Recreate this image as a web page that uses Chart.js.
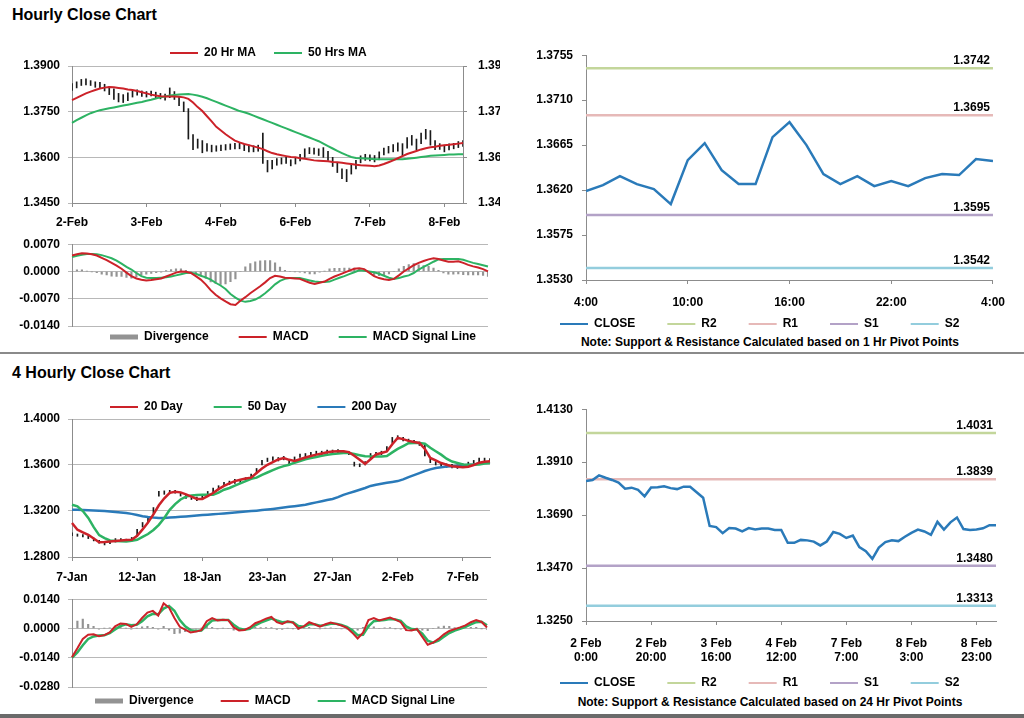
<!DOCTYPE html>
<html><head><meta charset="utf-8">
<script src="https://cdn.jsdelivr.net/npm/chart.js@4.4.1/dist/chart.umd.min.js"></script>
<style>
html,body{margin:0;padding:0;background:#fff;}
#wrap{position:relative;width:1024px;height:718px;overflow:hidden;background:#fff;font-family:"Liberation Sans",Arial,sans-serif;}
canvas{position:absolute;}
.title{position:absolute;left:12px;font-size:16px;font-weight:bold;line-height:18px;color:#000;white-space:nowrap;}
.note{position:absolute;left:520px;width:500px;text-align:center;font-size:12px;font-weight:bold;line-height:14px;color:#000;white-space:nowrap;}
.sep{position:absolute;left:0;width:1024px;}
</style></head><body>
<div id="wrap">
 <div class="title" style="top:6px">Hourly Close Chart</div>
 <div class="title" style="top:364px">4 Hourly Close Chart</div>
 <div class="note" style="top:335px">Note: Support &amp; Resistance Calculated based on 1 Hr Pivot Points</div>
 <div class="note" style="top:695px">Note: Support &amp; Resistance Calculated based on 24 Hr Pivot Points</div>
 <div class="sep" style="top:352px;height:2px;background:#8a8a8a"></div>
 <div class="sep" style="top:714px;height:4px;background:#6a6a6a"></div>
 <canvas id="c1" width="500" height="207" style="left:0;top:26px"></canvas>
 <canvas id="c2" width="500" height="149" style="left:0;top:229px"></canvas>
 <canvas id="c3" width="506" height="325" style="left:510px;top:39px"></canvas>
 <canvas id="c4" width="500" height="221" style="left:0;top:366px"></canvas>
 <canvas id="c5" width="500" height="152" style="left:0;top:584px"></canvas>
 <canvas id="c6" width="506" height="327" style="left:510px;top:393px"></canvas>
</div>
<script>
// ---------------- Hourly chart data ----------------
const hourDayLabels = ['2-Feb','3-Feb','4-Feb','6-Feb','7-Feb','8-Feb'];
const hourLow = [
1.3820,1.3828,1.3836,1.3838,1.3836,1.3830,1.3826,1.3818,1.3806,1.3790,
1.3782,1.3780,1.3786,1.3798,1.3804,1.3800,1.3798,1.3802,1.3796,1.3792,
1.3788,1.3796,1.3790,1.3770,1.3750,1.3660,1.3625,1.3630,1.3615,1.3620,
1.3618,1.3620,1.3622,1.3624,1.3626,1.3628,1.3628,1.3622,1.3618,1.3618,
1.3620,1.3580,1.3552,1.3562,1.3574,1.3578,1.3580,1.3572,1.3578,1.3588,
1.3600,1.3612,1.3610,1.3606,1.3600,1.3590,1.3570,1.3550,1.3530,1.3520,
1.3545,1.3562,1.3582,1.3590,1.3588,1.3585,1.3592,1.3608,1.3614,1.3618,
1.3620,1.3605,1.3630,1.3640,1.3625,1.3645,1.3660,1.3640,1.3625,1.3626,
1.3618,1.3624,1.3628,1.3632,1.3636];
const hourHigh = [
1.3842,1.3848,1.3856,1.3858,1.3852,1.3848,1.3846,1.3840,1.3832,1.3825,
1.3810,1.3806,1.3812,1.3818,1.3822,1.3818,1.3816,1.3818,1.3814,1.3810,
1.3808,1.3828,1.3816,1.3800,1.3782,1.3760,1.3675,1.3660,1.3655,1.3645,
1.3640,1.3638,1.3640,1.3642,1.3644,1.3646,1.3646,1.3642,1.3640,1.3638,
1.3640,1.3680,1.3590,1.3590,1.3596,1.3598,1.3600,1.3592,1.3598,1.3610,
1.3628,1.3632,1.3630,1.3628,1.3632,1.3620,1.3600,1.3582,1.3562,1.3560,
1.3575,1.3590,1.3605,1.3610,1.3608,1.3606,1.3618,1.3630,1.3636,1.3642,
1.3648,1.3645,1.3665,1.3672,1.3660,1.3680,1.3692,1.3688,1.3655,1.3645,
1.3640,1.3644,1.3646,1.3652,1.3655];
const hourMA20 = [
1.3788,1.3795,1.3803,1.3810,1.3816,1.3821,1.3826,1.3829,1.3831,1.3830,
1.3828,1.3826,1.3823,1.3821,1.3818,1.3814,1.3810,1.3806,1.3803,1.3801,
1.3800,1.3800,1.3800,1.3799,1.3797,1.3792,1.3780,1.3765,1.3752,1.3735,
1.3718,1.3700,1.3688,1.3676,1.3665,1.3655,1.3649,1.3644,1.3640,1.3636,
1.3632,1.3627,1.3620,1.3614,1.3610,1.3607,1.3604,1.3601,1.3600,1.3597,
1.3595,1.3593,1.3590,1.3589,1.3588,1.3587,1.3585,1.3584,1.3582,1.3580,
1.3578,1.3576,1.3574,1.3573,1.3572,1.3571,1.3573,1.3578,1.3584,1.3590,
1.3597,1.3604,1.3611,1.3616,1.3621,1.3626,1.3630,1.3633,1.3635,1.3638,
1.3640,1.3641,1.3643,1.3645,1.3647];
const hourMA50 = [
1.3713,1.3722,1.3730,1.3738,1.3745,1.3750,1.3755,1.3758,1.3761,1.3764,
1.3767,1.3770,1.3773,1.3776,1.3779,1.3782,1.3786,1.3789,1.3793,1.3797,
1.3800,1.3803,1.3805,1.3806,1.3807,1.3808,1.3806,1.3803,1.3799,1.3794,
1.3788,1.3782,1.3776,1.3770,1.3764,1.3758,1.3752,1.3748,1.3743,1.3737,
1.3731,1.3725,1.3719,1.3713,1.3707,1.3701,1.3695,1.3689,1.3683,1.3677,
1.3671,1.3665,1.3659,1.3653,1.3645,1.3637,1.3629,1.3621,1.3614,1.3607,
1.3601,1.3598,1.3597,1.3596,1.3595,1.3594,1.3594,1.3594,1.3594,1.3594,
1.3594,1.3594,1.3595,1.3597,1.3599,1.3601,1.3603,1.3605,1.3606,1.3607,
1.3608,1.3609,1.3609,1.3610,1.3610];
const hourPriceTicks = [1.3450, 1.3600, 1.3750, 1.3900];
const hourMacd = [
0.0041,0.0044,0.0047,0.0046,0.0044,0.0041,0.0035,0.0029,0.0022,0.0015,
0.0007,-0.0003,-0.0012,-0.0018,-0.0021,-0.0023,-0.0022,-0.0020,-0.0018,-0.0013,
-0.0008,-0.0003,0.0000,-0.0001,-0.0004,-0.0012,-0.0021,-0.0033,-0.0048,-0.0060,
-0.0069,-0.0077,-0.0084,-0.0086,-0.0075,-0.0066,-0.0056,-0.0047,-0.0038,-0.0028,
-0.0017,-0.0011,-0.0013,-0.0016,-0.0017,-0.0018,-0.0019,-0.0024,-0.0029,-0.0032,
-0.0029,-0.0026,-0.0019,-0.0013,-0.0008,-0.0003,0.0002,0.0007,0.0008,0.0006,
-0.0003,-0.0012,-0.0017,-0.0020,-0.0022,-0.0019,-0.0010,0.0000,0.0008,0.0016,
0.0022,0.0027,0.0031,0.0034,0.0032,0.0028,0.0025,0.0025,0.0026,0.0022,
0.0017,0.0013,0.0010,0.0006,0.0000];
const hourSignal = [
0.0037,0.0040,0.0043,0.0045,0.0045,0.0044,0.0042,0.0038,0.0034,0.0028,
0.0020,0.0012,0.0005,-0.0004,-0.0012,-0.0016,-0.0017,-0.0017,-0.0016,-0.0015,
-0.0013,-0.0010,-0.0007,-0.0004,-0.0003,-0.0006,-0.0011,-0.0015,-0.0021,-0.0029,
-0.0036,-0.0045,-0.0058,-0.0067,-0.0075,-0.0078,-0.0076,-0.0072,-0.0065,-0.0056,
-0.0045,-0.0033,-0.0024,-0.0019,-0.0017,-0.0017,-0.0017,-0.0020,-0.0023,-0.0026,
-0.0027,-0.0027,-0.0026,-0.0021,-0.0016,-0.0012,-0.0007,-0.0002,0.0003,0.0002,
0.0000,-0.0002,-0.0006,-0.0011,-0.0016,-0.0019,-0.0017,-0.0013,-0.0010,-0.0004,
0.0005,0.0012,0.0018,0.0025,0.0031,0.0032,0.0032,0.0032,0.0032,0.0030,
0.0026,0.0022,0.0019,0.0016,0.0013];
const hourDivergence = [
0.0004,0.0004,0.0004,0.0001,-0.0001,-0.0003,-0.0007,-0.0009,-0.0012,-0.0013,
-0.0013,-0.0015,-0.0017,-0.0014,-0.0009,-0.0007,-0.0005,-0.0003,-0.0002,0.0002,
0.0005,0.0007,0.0007,0.0003,-0.0001,-0.0006,-0.0010,-0.0018,-0.0027,-0.0031,
-0.0033,-0.0032,-0.0026,-0.0019,0.0000,0.0012,0.0020,0.0025,0.0027,0.0028,
0.0028,0.0022,0.0011,0.0003,0.0000,-0.0001,-0.0002,-0.0004,-0.0006,-0.0006,
-0.0002,0.0001,0.0007,0.0008,0.0008,0.0009,0.0009,0.0009,0.0005,0.0004,
-0.0003,-0.0010,-0.0011,-0.0009,-0.0006,0.0000,0.0007,0.0013,0.0018,0.0020,
0.0017,0.0015,0.0013,0.0009,0.0003,-0.0004,-0.0007,-0.0007,-0.0006,-0.0008,
-0.0009,-0.0009,-0.0009,-0.0010,-0.0013];
const hourMacdTicks = [-0.0140, -0.0070, 0.0000, 0.0070];

// ---------------- Hourly pivot chart data ----------------
const pivotHourTicks = ['4:00','10:00','16:00','22:00','4:00'];
const pivotHourClose = [1.3619,1.3625,1.3634,1.3626,1.3621,1.3606,1.3650,1.3667,1.3640,1.3626,
1.3626,1.3673,1.3688,1.3665,1.3636,1.3626,1.3634,1.3624,1.3629,1.3624,1.3632,1.3636,1.3635,1.3651,1.3649];
const pivotNames = ['R2','R1','S1','S2'];
const pivotHourLevels = [1.3742, 1.3695, 1.3595, 1.3542];
const pivotHourAxis = [1.3530, 1.3575, 1.3620, 1.3665, 1.3710, 1.3755];

// ---------------- 4-hourly chart data ----------------
const fourTickLabels = ['7-Jan','12-Jan','18-Jan','23-Jan','27-Jan','2-Feb','7-Feb'];
const fourLow = [
1.2985,1.2980,1.2975,1.2960,1.2940,1.2920,1.2905,1.2915,1.2930,1.2935,
1.2935,1.2940,1.2980,1.3060,1.3100,1.3180,1.3330,1.3345,1.3350,1.3355,
1.3330,1.3310,1.3300,1.3290,1.3300,1.3340,1.3360,1.3390,1.3420,1.3430,
1.3440,1.3440,1.3460,1.3480,1.3530,1.3600,1.3630,1.3640,1.3635,1.3645,
1.3610,1.3640,1.3665,1.3670,1.3680,1.3690,1.3690,1.3700,1.3700,1.3705,
1.3700,1.3690,1.3590,1.3585,1.3600,1.3660,1.3680,1.3690,1.3720,1.3790,
1.3825,1.3810,1.3795,1.3785,1.3770,1.3680,1.3620,1.3600,1.3595,1.3580,
1.3575,1.3570,1.3580,1.3590,1.3600,1.3610,1.3620,1.3625];
const fourHigh = [
1.3010,1.3000,1.2995,1.2985,1.2965,1.2945,1.2930,1.2945,1.2960,1.2960,
1.2955,1.2970,1.3040,1.3100,1.3140,1.3230,1.3370,1.3375,1.3380,1.3380,
1.3360,1.3340,1.3325,1.3320,1.3340,1.3370,1.3400,1.3420,1.3450,1.3460,
1.3475,1.3470,1.3490,1.3520,1.3570,1.3640,1.3660,1.3670,1.3665,1.3675,
1.3640,1.3670,1.3695,1.3700,1.3710,1.3720,1.3720,1.3730,1.3730,1.3735,
1.3725,1.3715,1.3625,1.3610,1.3630,1.3700,1.3710,1.3720,1.3760,1.3840,
1.3855,1.3840,1.3825,1.3815,1.3800,1.3770,1.3650,1.3630,1.3620,1.3610,
1.3605,1.3600,1.3610,1.3625,1.3640,1.3660,1.3660,1.3655];
const fourMA20 = [
1.3095,1.3037,1.3015,1.2993,1.2960,1.2928,1.2930,1.2935,1.2940,1.2944,
1.2947,1.2950,1.2985,1.3040,1.3100,1.3170,1.3250,1.3310,1.3358,1.3368,
1.3362,1.3344,1.3325,1.3305,1.3305,1.3330,1.3356,1.3390,1.3418,1.3440,
1.3460,1.3472,1.3482,1.3490,1.3530,1.3570,1.3602,1.3625,1.3648,1.3660,
1.3645,1.3635,1.3650,1.3665,1.3678,1.3690,1.3700,1.3710,1.3718,1.3720,
1.3720,1.3712,1.3680,1.3645,1.3609,1.3650,1.3692,1.3705,1.3718,1.3780,
1.3835,1.3825,1.3810,1.3800,1.3792,1.3740,1.3661,1.3640,1.3617,1.3602,
1.3590,1.3585,1.3580,1.3585,1.3600,1.3620,1.3628,1.3633];
const fourMA50 = [
1.3254,1.3240,1.3200,1.3140,1.3060,1.2990,1.2965,1.2944,1.2940,1.2937,
1.2935,1.2942,1.2950,1.2975,1.3000,1.3035,1.3080,1.3140,1.3210,1.3260,
1.3300,1.3325,1.3335,1.3340,1.3341,1.3341,1.3341,1.3360,1.3385,1.3400,
1.3420,1.3440,1.3460,1.3480,1.3490,1.3515,1.3535,1.3555,1.3575,1.3590,
1.3602,1.3620,1.3635,1.3650,1.3661,1.3670,1.3680,1.3688,1.3696,1.3700,
1.3704,1.3704,1.3695,1.3685,1.3676,1.3675,1.3675,1.3675,1.3678,1.3710,
1.3740,1.3765,1.3790,1.3791,1.3791,1.3785,1.3750,1.3720,1.3690,1.3655,
1.3630,1.3617,1.3605,1.3602,1.3602,1.3605,1.3612,1.3617];
const fourMA200 = [
1.3211,1.3210,1.3208,1.3207,1.3205,1.3203,1.3200,1.3196,1.3192,1.3188,
1.3183,1.3175,1.3165,1.3155,1.3148,1.3143,1.3140,1.3140,1.3143,1.3146,
1.3150,1.3153,1.3157,1.3161,1.3165,1.3168,1.3172,1.3175,1.3179,1.3183,
1.3187,1.3191,1.3195,1.3199,1.3203,1.3208,1.3213,1.3218,1.3224,1.3230,
1.3236,1.3242,1.3248,1.3255,1.3265,1.3275,1.3285,1.3295,1.3305,1.3320,
1.3340,1.3355,1.3370,1.3385,1.3400,1.3418,1.3428,1.3437,1.3445,1.3452,
1.3460,1.3475,1.3495,1.3512,1.3530,1.3548,1.3562,1.3574,1.3580,1.3586,
1.3590,1.3594,1.3597,1.3601,1.3605,1.3612,1.3620,1.3626];
const fourPriceTicks = [1.2800, 1.3200, 1.3600, 1.4000];
const fourMacd = [
-0.0137,-0.0095,-0.0050,-0.0030,-0.0028,-0.0037,-0.0032,-0.0019,0.0010,0.0024,
0.0022,0.0008,0.0020,0.0050,0.0076,0.0084,0.0062,0.0120,0.0100,0.0050,
0.0008,-0.0005,-0.0019,-0.0015,-0.0008,0.0035,0.0050,0.0038,0.0042,0.0040,
0.0005,-0.0010,-0.0007,0.0005,0.0025,0.0035,0.0047,0.0055,0.0030,0.0022,
0.0034,0.0028,0.0000,0.0010,0.0030,0.0020,0.0009,0.0020,0.0028,0.0022,
0.0014,0.0003,-0.0020,-0.0048,-0.0020,0.0040,0.0050,0.0038,0.0045,0.0052,
0.0042,0.0030,-0.0008,-0.0010,-0.0003,-0.0040,-0.0078,-0.0068,-0.0050,-0.0028,
-0.0012,-0.0003,0.0005,0.0015,0.0030,0.0040,0.0031,0.0005];
const fourSignal = [
-0.0140,-0.0115,-0.0080,-0.0050,-0.0038,-0.0034,-0.0033,-0.0022,-0.0005,0.0012,
0.0020,0.0015,0.0018,0.0035,0.0058,0.0070,0.0068,0.0095,0.0108,0.0085,
0.0040,0.0010,-0.0008,-0.0012,-0.0010,0.0015,0.0038,0.0040,0.0040,0.0040,
0.0018,0.0000,-0.0006,-0.0002,0.0015,0.0028,0.0038,0.0047,0.0038,0.0030,
0.0032,0.0030,0.0012,0.0008,0.0020,0.0020,0.0013,0.0016,0.0022,0.0022,
0.0017,0.0008,-0.0008,-0.0032,-0.0030,0.0010,0.0035,0.0038,0.0040,0.0045,
0.0043,0.0036,0.0010,-0.0003,-0.0005,-0.0025,-0.0058,-0.0068,-0.0058,-0.0040,
-0.0022,-0.0010,-0.0002,0.0008,0.0020,0.0030,0.0032,0.0015];
const fourDivergence = [
0.0003,0.0035,0.0045,0.0020,0.0010,-0.0003,0.0001,0.0003,0.0005,0.0005,
0.0002,-0.0003,0.0002,0.0008,0.0010,0.0006,-0.0003,0.0010,-0.0008,-0.0025,
-0.0022,-0.0015,-0.0006,-0.0003,0.0001,0.0010,0.0005,-0.0002,0.0002,0.0000,
-0.0008,-0.0006,-0.0002,0.0004,0.0005,0.0004,0.0004,0.0004,-0.0004,-0.0004,
0.0002,-0.0001,-0.0006,0.0001,0.0005,0.0000,-0.0002,0.0002,0.0003,0.0000,
-0.0002,-0.0003,-0.0006,-0.0008,0.0005,0.0015,0.0008,0.0000,0.0003,0.0004,
-0.0001,-0.0003,-0.0009,-0.0004,0.0001,-0.0008,-0.0010,0.0000,0.0008,0.0012,
0.0010,0.0004,0.0004,0.0004,0.0005,0.0005,-0.0001,-0.0005];
const fourMacdTicks = [-0.0280, -0.0140, 0.0000, 0.0140];

// ---------------- 24h pivot chart data ----------------
const pivotDayTicks = [['2 Feb','0:00'],['2 Feb','20:00'],['3 Feb','16:00'],['4 Feb','12:00'],['7 Feb','7:00'],['8 Feb','3:00'],['8 Feb','23:00']];
const pivotDayClose = [
1.3832,1.3836,1.3855,1.3845,1.3836,1.3825,1.3800,1.3804,1.3795,1.3768,
1.3805,1.3806,1.3810,1.3802,1.3798,1.3808,1.3808,1.3785,1.3762,1.3645,
1.3640,1.3615,1.3636,1.3634,1.3622,1.3636,1.3630,1.3634,1.3634,1.3628,
1.3628,1.3575,1.3575,1.3587,1.3585,1.3580,1.3564,1.3580,1.3620,1.3612,
1.3595,1.3605,1.3557,1.3540,1.3508,1.3555,1.3578,1.3585,1.3582,1.3600,
1.3616,1.3630,1.3622,1.3608,1.3662,1.3630,1.3660,1.3680,1.3632,1.3628,
1.3630,1.3635,1.3648,1.3648];
const pivotDayLevels = [1.4031, 1.3839, 1.3480, 1.3313];
const pivotDayAxis = [1.3250, 1.3470, 1.3690, 1.3910, 1.4130];

// ---------------- styling ----------------
const RED = '#cc2229', GREEN = '#2db363', BLUE = '#2a7ab9', BLACK = '#1a1a1a';
const AXIS = '#8c8c8c', GRID = '#b8b8b8', DIVG = '#939393';
const levelColors = ['#c3d69b', '#e6b9b8', '#b3a2c7', '#93cddd'];

Chart.defaults.font.family = '"Liberation Sans", Arial, Helvetica, sans-serif';
Chart.defaults.font.size = 12;
Chart.defaults.font.weight = 'bold';
Chart.defaults.color = '#000';
Chart.defaults.plugins.tooltip.enabled = false;

// place a legend's first item at (x, y-centre) in canvas coordinates
const legendPlace = {
  id: 'legendPlace',
  afterLayout(chart, args, opts) {
    const lg = chart.legend;
    if (!lg || opts.x === undefined || !lg.lineWidths) return;
    const p = lg.options.labels.padding;
    const start = (lg.left + p + lg.right - lg.lineWidths[0]) / 2;
    const dx = opts.x - start;
    lg.left += dx; lg.right += dx;
    const dy = opts.y - (lg.top + p + 6);
    lg.top += dy; lg.bottom += dy;
  }
};
// value tags above the pivot lines
const levelLabels = {
  id: 'levelLabels',
  afterDatasetsDraw(chart, args, opts) {
    if (!opts.levels) return;
    const {ctx, chartArea, scales} = chart;
    ctx.save();
    ctx.font = 'bold 12px "Liberation Sans", Arial, sans-serif';
    ctx.fillStyle = '#000';
    ctx.textAlign = 'right';
    ctx.textBaseline = 'alphabetic';
    opts.levels.forEach(v => ctx.fillText(v.toFixed(4), chartArea.right - 3, scales.y.getPixelForValue(v) - 4));
    ctx.restore();
  }
};
Chart.register(legendPlace, levelLabels);

function legendOpts(position, padding) {
  return {
    display: true, position,
    labels: {
      usePointStyle: true, pointStyleWidth: 28, boxHeight: 5, padding,
      font: {size: 12, weight: 'bold'}, color: '#000',
      filter: item => !!item.text,
      sort: (a, b) => a.datasetIndex - b.datasetIndex
    }
  };
}
function fixedTicks(list) { return s => { s.ticks = list.map(v => ({value: v})); }; }
function lineSet(label, data, color, width) {
  return {type: 'line', label, data, borderColor: color, backgroundColor: color, borderWidth: width,
    pointRadius: 0, pointStyle: 'line', pointBorderWidth: 2, pointBorderColor: color, tension: 0, order: 1};
}
function yAxis(min, max, list, fmt, pad, width, gridOn) {
  return {
    position: 'left', min, max, afterBuildTicks: fixedTicks(list),
    ticks: {callback: fmt, padding: pad, autoSkip: false},
    grid: gridOn ? {color: GRID, tickLength: 4} : {drawOnChartArea: false, tickLength: 4, color: AXIS},
    border: {color: AXIS},
    afterFit: s => { s.width = width; }
  };
}
const f4 = v => Number(v).toFixed(4);

// ---------- chart 1 : hourly price ----------
const hourCats = hourLow.map((_, i) => i % 16 === 0 ? hourDayLabels[i / 16] : '');
new Chart(document.getElementById('c1'), {
  type: 'line',
  data: {labels: hourCats, datasets: [
    {type: 'bar', label: '', data: hourLow.map((lo, i) => [lo, hourHigh[i]]), backgroundColor: BLACK, barThickness: 1, order: 5},
    lineSet('20 Hr MA', hourMA20, RED, 2),
    lineSet('50 Hrs MA', hourMA50, GREEN, 2)
  ]},
  options: {
    responsive: false, devicePixelRatio: 1, animation: false, events: [],
    layout: {padding: 0},
    scales: {
      x: {type: 'category', offset: false,
        grid: {offset: false, drawOnChartArea: false, tickLength: 4, color: AXIS}, border: {color: AXIS},
        ticks: {autoSkip: false, maxRotation: 0, padding: 8},
        afterBuildTicks: s => { s.ticks = s.ticks.filter(t => hourCats[t.value] !== ''); },
        afterFit: s => { s.height = 30; }},
      y: yAxis(1.345, 1.39, hourPriceTicks, f4, 8, 72, true),
      y2: Object.assign(yAxis(1.345, 1.39, hourPriceTicks, v => String(Number(Number(v).toFixed(4))), 11, 37, false), {position: 'right'})
    },
    plugins: {legend: legendOpts('top', 18), legendPlace: {x: 170, y: 27}}
  }
});

// ---------- chart 2 : hourly MACD ----------
new Chart(document.getElementById('c2'), {
  type: 'line',
  data: {labels: hourCats, datasets: [
    {type: 'bar', label: 'Divergence', data: hourDivergence, backgroundColor: DIVG, barThickness: 1.5, borderWidth: 0, pointStyle: 'rect', order: 5},
    lineSet('MACD', hourMacd, RED, 2),
    lineSet('MACD Signal Line', hourSignal, GREEN, 2)
  ]},
  options: {
    responsive: false, devicePixelRatio: 1, animation: false, events: [],
    layout: {padding: {top: 0, right: 12, left: 0, bottom: 0}},
    scales: {
      x: {type: 'category', display: false, offset: false, grid: {offset: false}},
      y: yAxis(-0.014, 0.007, hourMacdTicks, f4, 8, 72, true)
    },
    plugins: {legend: legendOpts('bottom', 30), legendPlace: {x: 110, y: 108}}
  }
});

// ---------- chart 3 : hourly pivots ----------
function pivotSets(close, levels) {
  const last = close.length - 1;
  return [
    {type: 'line', label: 'CLOSE', data: close.map((v, i) => ({x: i, y: v})), borderColor: BLUE, backgroundColor: BLUE,
      borderWidth: 2.5, pointRadius: 0, pointStyle: 'line', pointBorderWidth: 2, pointBorderColor: BLUE, order: 0}
  ].concat(levels.map((lv, k) => ({
    type: 'line', label: pivotNames[k], data: [{x: 0, y: lv}, {x: last, y: lv}],
    borderColor: levelColors[k], backgroundColor: levelColors[k], borderWidth: 2.5, pointRadius: 0,
    pointStyle: 'line', pointBorderWidth: 2, pointBorderColor: levelColors[k], order: 1
  })));
}
function pivotX(max, labels, step, height, pad) {
  return {
    type: 'linear', min: 0, max,
    afterBuildTicks: s => { s.ticks = labels.map((_, k) => ({value: k * step})); },
    ticks: {callback: (v, k) => labels[k], autoSkip: false, maxRotation: 0, padding: pad},
    grid: {drawOnChartArea: false, tickLength: 4, color: AXIS}, border: {color: AXIS},
    afterFit: s => { s.height = height; }
  };
}
new Chart(document.getElementById('c3'), {
  type: 'line',
  data: {datasets: pivotSets(pivotHourClose, pivotHourLevels)},
  options: {
    responsive: false, devicePixelRatio: 1, animation: false, events: [],
    layout: {padding: {top: 0, right: 20, left: 0, bottom: 0}},
    scales: {
      x: pivotX(pivotHourClose.length - 1, pivotHourTicks, 6, 30, 11),
      y: yAxis(1.353, 1.3755, pivotHourAxis, f4, 9, 76, false)
    },
    plugins: {legend: legendOpts('bottom', 32), legendPlace: {x: 50, y: 285}, levelLabels: {levels: pivotHourLevels}}
  }
});

// ---------- chart 4 : 4-hourly price ----------
const fourCats = fourLow.map((_, i) => i % 12 === 0 ? fourTickLabels[i / 12] : '');
new Chart(document.getElementById('c4'), {
  type: 'line',
  data: {labels: fourCats, datasets: [
    {type: 'bar', label: '', data: fourLow.map((lo, i) => [lo, fourHigh[i]]), backgroundColor: BLACK, barThickness: 1, order: 5},
    lineSet('20 Day', fourMA20, RED, 2.5),
    lineSet('50 Day', fourMA50, GREEN, 2.5),
    lineSet('200 Day', fourMA200, BLUE, 2.5)
  ]},
  options: {
    responsive: false, devicePixelRatio: 1, animation: false, events: [],
    layout: {padding: {top: 0, right: 10, left: 0, bottom: 0}},
    scales: {
      x: {type: 'category', offset: false,
        grid: {offset: false, drawOnChartArea: false, tickLength: 4, color: AXIS}, border: {color: AXIS},
        ticks: {autoSkip: false, maxRotation: 0, padding: 9},
        afterBuildTicks: s => { s.ticks = s.ticks.filter(t => fourCats[t.value] !== ''); },
        afterFit: s => { s.height = 30; }},
      y: yAxis(1.28, 1.40, fourPriceTicks, f4, 8, 72, true)
    },
    plugins: {legend: legendOpts('top', 31), legendPlace: {x: 110, y: 41}}
  }
});

// ---------- chart 5 : 4-hourly MACD ----------
new Chart(document.getElementById('c5'), {
  type: 'line',
  data: {labels: fourCats, datasets: [
    {type: 'bar', label: 'Divergence', data: fourDivergence, backgroundColor: DIVG, barThickness: 1.5, borderWidth: 0, pointStyle: 'rect', order: 5},
    lineSet('MACD', fourMacd, RED, 2),
    lineSet('MACD Signal Line', fourSignal, GREEN, 2.5)
  ]},
  options: {
    responsive: false, devicePixelRatio: 1, animation: false, events: [],
    layout: {padding: {top: 0, right: 13, left: 0, bottom: 0}},
    scales: {
      x: {type: 'category', display: false, offset: false, grid: {offset: false}},
      y: yAxis(-0.028, 0.014, fourMacdTicks, f4, 8, 72, true)
    },
    plugins: {legend: legendOpts('bottom', 27), legendPlace: {x: 95, y: 117}}
  }
});

// ---------- chart 6 : 24h pivots ----------
new Chart(document.getElementById('c6'), {
  type: 'line',
  data: {datasets: pivotSets(pivotDayClose, pivotDayLevels)},
  options: {
    responsive: false, devicePixelRatio: 1, animation: false, events: [],
    layout: {padding: {top: 0, right: 20, left: 0, bottom: 0}},
    scales: {
      x: pivotX(pivotDayClose.length - 1, pivotDayTicks, 10, 45, 11),
      y: yAxis(1.325, 1.413, pivotDayAxis, f4, 9, 76, false)
    },
    plugins: {legend: legendOpts('bottom', 32), legendPlace: {x: 50, y: 290}, levelLabels: {levels: pivotDayLevels}}
  }
});
</script>
</body></html>
